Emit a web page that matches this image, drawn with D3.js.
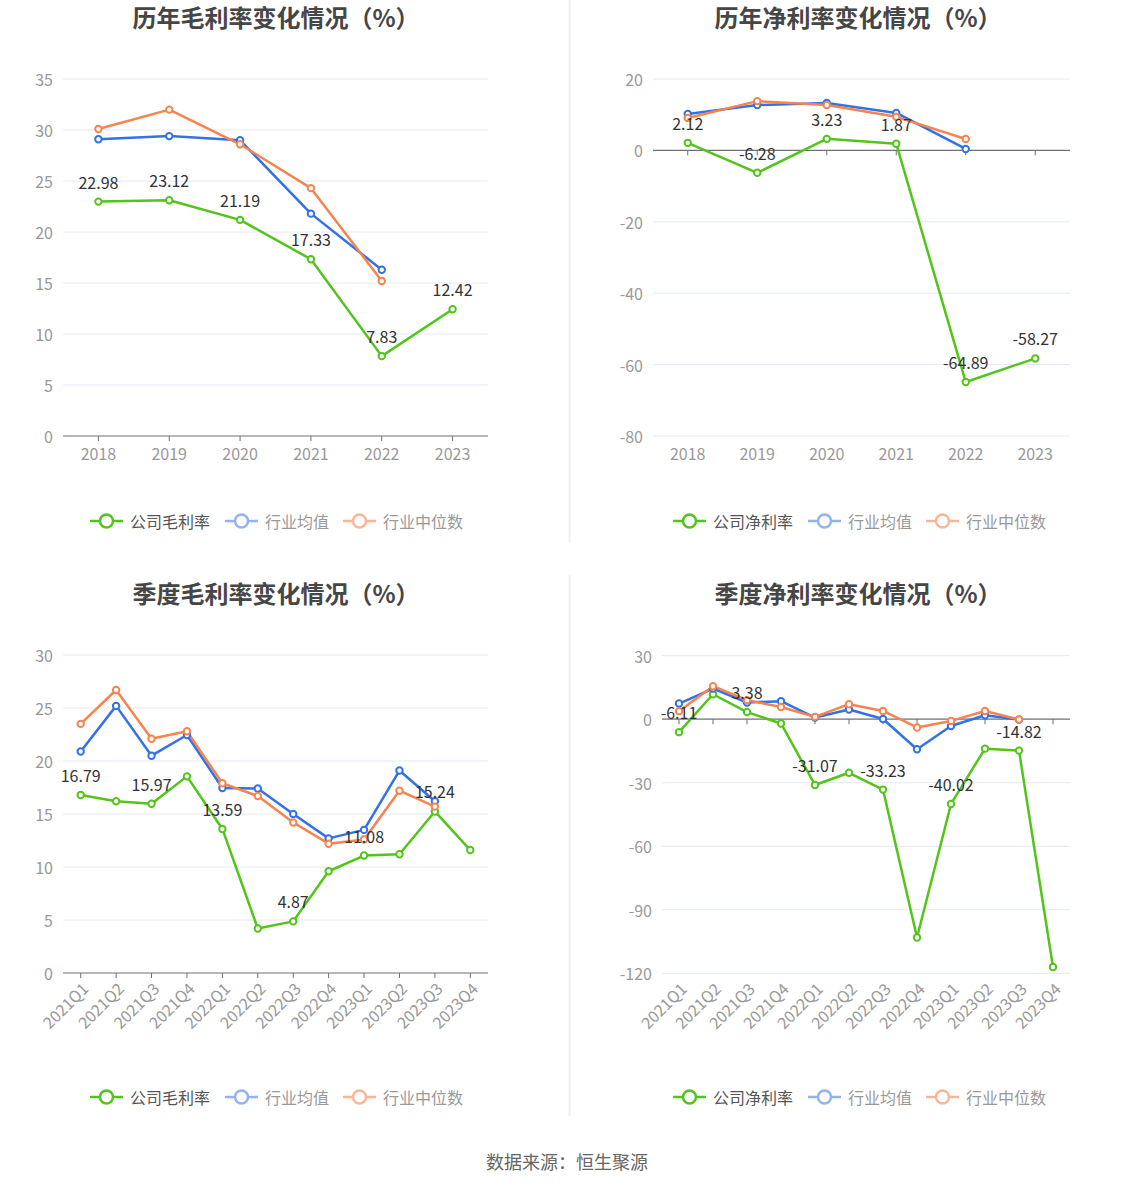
<!DOCTYPE html>
<html>
<head>
<meta charset="utf-8">
<script src="https://cdn.jsdelivr.net/npm/d3@7/dist/d3.min.js"></script>
<style>
  body { margin: 0; background: #fff; }
  svg { font-family: "Noto Sans CJK SC", "Noto Sans", sans-serif; }
</style>
</head>
<body>
<div id="chart"></div>
<script>
// data
const years = ['2018', '2019', '2020', '2021', '2022', '2023']
const quarters = ['2021Q1', '2021Q2', '2021Q3', '2021Q4', '2022Q1', '2022Q2', '2022Q3', '2022Q4', '2023Q1', '2023Q2', '2023Q3', '2023Q4']

const yearGross = [22.98, 23.12, 21.19, 17.33, 7.83, 12.42]
const yearGrossAvg = [29.1, 29.4, 29.0, 21.8, 16.3]
const yearGrossMed = [30.1, 32.0, 28.6, 24.3, 15.2]

const yearNet = [2.12, -6.28, 3.23, 1.87, -64.89, -58.27]
const yearNetAvg = [10.2, 12.7, 13.3, 10.5, 0.4]
const yearNetMed = [9.1, 13.8, 12.7, 9.4, 3.2]

const qGross = [16.79, 16.2, 15.97, 18.55, 13.59, 4.2, 4.87, 9.6, 11.08, 11.2, 15.24, 11.6]
const qGrossAvg = [20.9, 25.2, 20.5, 22.45, 17.45, 17.4, 15.0, 12.7, 13.5, 19.1, 16.2]
const qGrossMed = [23.5, 26.7, 22.1, 22.8, 17.9, 16.7, 14.2, 12.2, 12.6, 17.2, 15.7]

const qNet = [-6.11, 11.8, 3.38, -2.0, -31.07, -25.3, -33.23, -103.1, -40.02, -13.9, -14.82, -117.0]
const qNetAvg = [7.4, 14.5, 7.9, 8.5, 0.8, 4.6, 0.1, -14.2, -3.2, 1.9, -0.2]
const qNetMed = [3.8, 15.6, 9.0, 5.8, 1.1, 7.1, 3.9, -3.9, -0.8, 3.9, -0.1]

const ticksGross = [0, 5, 10, 15, 20, 25, 30, 35]
const ticksNet = [-80, -60, -40, -20, 0, 20]
const ticksQGross = [0, 5, 10, 15, 20, 25, 30]
const ticksQNet = [-120, -90, -60, -30, 0, 30]

const legendGross = ['公司毛利率', '行业均值', '行业中位数']
const legendNet = ['公司净利率', '行业均值', '行业中位数']

const green = '#52c41a', blue = '#3371e8', orange = '#f7844f'
const legendColors = [green, '#92b3f2', '#f9b698']

const svg = d3.select('#chart').append('svg')
    .attr('width', 1134)
    .attr('height', 1188)

// panel dividers
svg.append('line').attr('x1', 569.5).attr('x2', 569.5).attr('y1', 0).attr('y2', 542)
    .attr('stroke', '#f0f0f0').attr('stroke-width', 2)
svg.append('line').attr('x1', 569.5).attr('x2', 569.5).attr('y1', 575).attr('y2', 1116)
    .attr('stroke', '#f0f0f0').attr('stroke-width', 2)

drawChart = (c) => {
    const g = svg.append('g')
    const x = d3.scalePoint().domain(c.cats).range([c.left, c.right]).padding(0.5)
    const y = d3.scaleLinear().domain(c.domain).range([c.bottom, c.top])

    g.append('text')
        .attr('x', c.titleX).attr('y', c.titleY)
        .attr('text-anchor', 'middle').attr('dominant-baseline', 'central')
        .attr('font-size', 24).attr('font-weight', 'bold').attr('fill', '#464646')
        .text(c.title)

    // grid + y labels
    c.ticks.forEach(t => {
        g.append('line')
            .attr('x1', c.left).attr('x2', c.right)
            .attr('y1', y(t)).attr('y2', y(t))
            .attr('stroke', t === 0 ? '#6e7079' : '#e3e8f3')
            .attr('stroke-width', t === 0 ? 1.2 : 1)
        g.append('text')
            .attr('x', c.left - 10).attr('y', y(t))
            .attr('text-anchor', 'end').attr('dominant-baseline', 'central')
            .attr('font-size', 16).attr('fill', '#999')
            .text(t)
    })

    // category ticks on the zero line
    c.cats.forEach(d => {
        g.append('line')
            .attr('x1', x(d)).attr('x2', x(d))
            .attr('y1', y(0)).attr('y2', y(0) + 5)
            .attr('stroke', '#6e7079')
        const lab = g.append('text')
            .attr('font-size', 16).attr('fill', '#999')
            .text(d)
        if (c.rotate) {
            lab.attr('text-anchor', 'end')
                .attr('transform', `translate(${x(d) + 4},${c.bottom + 12}) rotate(-45)`)
                .attr('dominant-baseline', 'central')
        } else {
            lab.attr('x', x(d)).attr('y', c.bottom + 17)
                .attr('text-anchor', 'middle').attr('dominant-baseline', 'central')
        }
    })

    const line = d3.line().x((d, i) => x(c.cats[i])).y(d => y(d))
    c.series.forEach(s => {
        g.append('path')
            .attr('d', line(s.values))
            .attr('fill', 'none').attr('stroke', s.color).attr('stroke-width', 2.5)
            .attr('stroke-linejoin', 'round')
    })
    c.series.forEach(s => {
        g.selectAll(null).data(s.values).enter().append('circle')
            .attr('cx', (d, i) => x(c.cats[i])).attr('cy', d => y(d))
            .attr('r', 3.2)
            .attr('fill', '#fff').attr('stroke', s.color).attr('stroke-width', 2)
    })
    // labels for company series
    const main = c.series[0]
    main.values.forEach((v, i) => {
        if (i % c.labelEvery !== 0) return
        g.append('text')
            .attr('x', x(c.cats[i])).attr('y', y(v) - 20)
            .attr('text-anchor', 'middle').attr('dominant-baseline', 'central')
            .attr('font-size', 16).attr('fill', '#333')
            .text(v.toFixed(2))
    })

    // legend
    const offs = [0, 135, 253]
    c.legend.forEach((name, i) => {
        const lx = c.legendX + offs[i]
        g.append('line')
            .attr('x1', lx).attr('x2', lx + 33)
            .attr('y1', c.legendY).attr('y2', c.legendY)
            .attr('stroke', legendColors[i]).attr('stroke-width', 2.5)
        g.append('circle')
            .attr('cx', lx + 16.5).attr('cy', c.legendY).attr('r', 6.5)
            .attr('fill', '#fff').attr('stroke', legendColors[i]).attr('stroke-width', 2.5)
        g.append('text')
            .attr('x', lx + 40).attr('y', c.legendY)
            .attr('dominant-baseline', 'central')
            .attr('font-size', 16).attr('fill', i === 0 ? '#555' : '#999')
            .text(name)
    })
}

const mk = (a, b, m) => [
    {values: a, color: green},
    {values: b, color: blue},
    {values: m, color: orange}
]

drawChart({title: '历年毛利率变化情况（%）', cats: years, series: mk(yearGross, yearGrossAvg, yearGrossMed),
    left: 63, right: 488, top: 79, bottom: 436, domain: [0, 35], ticks: ticksGross,
    titleX: 276, titleY: 16, legend: legendGross, legendX: 90, legendY: 521, labelEvery: 1})

drawChart({title: '历年净利率变化情况（%）', cats: years, series: mk(yearNet, yearNetAvg, yearNetMed),
    left: 653, right: 1070, top: 79, bottom: 436, domain: [-80, 20], ticks: ticksNet,
    titleX: 858, titleY: 16, legend: legendNet, legendX: 673, legendY: 521, labelEvery: 1})

drawChart({title: '季度毛利率变化情况（%）', cats: quarters, series: mk(qGross, qGrossAvg, qGrossMed),
    left: 63, right: 488, top: 655, bottom: 973, domain: [0, 30], ticks: ticksQGross,
    titleX: 276, titleY: 592, legend: legendGross, legendX: 90, legendY: 1097, labelEvery: 2, rotate: true})

drawChart({title: '季度净利率变化情况（%）', cats: quarters, series: mk(qNet, qNetAvg, qNetMed),
    left: 662, right: 1070, top: 655.7, bottom: 973.3, domain: [-120, 30], ticks: ticksQNet,
    titleX: 858, titleY: 592, legend: legendNet, legendX: 673, legendY: 1097, labelEvery: 2, rotate: true})

svg.append('text')
    .attr('x', 567).attr('y', 1161)
    .attr('text-anchor', 'middle').attr('dominant-baseline', 'central')
    .attr('font-size', 18).attr('fill', '#666')
    .text('数据来源：恒生聚源')
</script>
</body>
</html>
